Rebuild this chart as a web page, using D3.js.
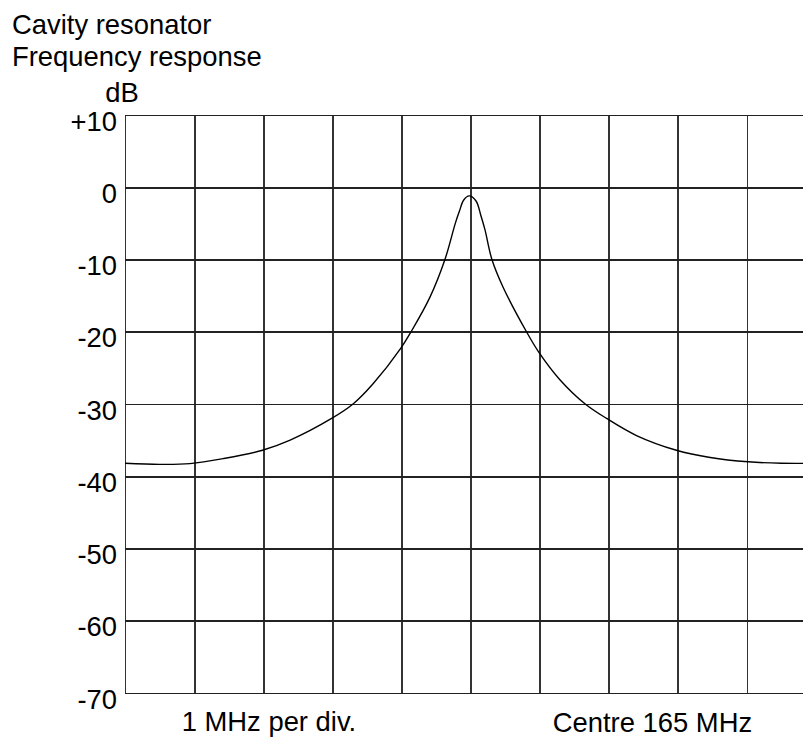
<!DOCTYPE html>
<meta charset="utf-8">
<style>
body { margin: 0; background: #fff; }
svg text { font-family: "Liberation Sans", Arial, sans-serif; font-size: 27.4px; fill: #000; }
.grid line { stroke: #333; stroke-width: 1.8; shape-rendering: crispEdges; }
.grid path { display: none; }
.line { fill: none; stroke: #000; stroke-width: 1.4; }
</style>
<svg class="chart"></svg>
<script src="https://d3js.org/d3.v7.min.js"></script>
<script>

// frequency in MHz (1 MHz per div, centre 165 MHz)
var freq = [160, 160.5, 160.94, 161.42, 161.99, 162.39, 162.99, 163.3, 163.59, 163.99,
            164.14, 164.41, 164.63, 164.78, 164.84, 164.9, 164.98, 165.08, 165.15, 165.21,
            165.31, 165.47, 165.81, 166.0, 166.29, 166.66, 166.97, 167.41, 167.98, 168.47,
            169.02, 169.5, 170];
var response = [-38.2, -38.35, -38.25, -37.56, -36.4, -35.0, -32.0, -30.0, -27.2, -22.3,
                -20.0, -15.28, -10.0, -5.0, -3.3, -1.8, -1.2, -1.9, -3.9, -5.9,
                -10.0, -13.8, -20.0, -23.0, -26.6, -30.0, -32.0, -34.4, -36.4, -37.4,
                -38.0, -38.2, -38.2];

var dbTicks = [10, 0, -10, -20, -30, -40, -50, -60, -70];
var dbLabels = ["+10", "0", "-10", "-20", "-30", "-40", "-50", "-60", "-70"];
var freqTicks = [160, 161, 162, 163, 164, 165, 166, 167, 168, 169, 170];

var titleLines = ["Cavity resonator", "Frequency response"];

var margin = {top: 115, left: 125},
    width = 691,
    height = 578;

var x = d3.scaleLinear().domain([160, 170]).range([0, width]);
var y = d3.scaleLinear().domain([-70, 10]).range([height, 0]);

var svg = d3.select(".chart")
    .attr("width", 803)
    .attr("height", 737);

svg.selectAll(".title")
    .data(titleLines)
    .enter()
    .append("text")
      .attr("class", "title")
      .attr("x", 12)
      .attr("y", function(d, i){ return 34 + i * 32; })
      .text(function(d){ return d; });

var chart = svg.append("g")
    .attr("transform", "translate(" + margin.left + "," + margin.top + ")");

// vertical grid
chart.append("g")
    .attr("class", "grid")
    .attr("transform", "translate(0," + height + ")")
    .call(d3.axisBottom(x).tickValues(freqTicks).tickSize(-height).tickFormat(""))
    .selectAll("line").attr("y2", -height);

// horizontal grid + dB labels
var yg = chart.append("g")
    .attr("class", "grid")
    .call(d3.axisLeft(y).tickValues(dbTicks).tickSize(-width).tickPadding(8)
      .tickFormat(function(d, i){ return dbLabels[i]; }));
yg.selectAll("line").style("stroke", "#222");
yg.selectAll("text")
    .attr("dy", "0.55em")
    .style("font-size", "27.4px")
    .style("font-family", "'Liberation Sans', Arial, sans-serif");

chart.append("text")
    .attr("x", -3)
    .attr("y", -13)
    .attr("text-anchor", "middle")
    .text("dB");

var line = d3.line()
    .x(function(d){ return x(d[0]); })
    .y(function(d){ return y(d[1]); })
    .curve(d3.curveCatmullRom.alpha(0.5));

chart.append("path")
    .datum(d3.zip(freq, response))
    .attr("class", "line")
    .attr("d", line);

chart.append("text")
    .attr("x", x(160.82))
    .attr("y", height + 38)
    .text("1 MHz per div.");

chart.append("text")
    .attr("x", x(166.19))
    .attr("y", height + 39)
    .text("Centre 165 MHz");

</script>
